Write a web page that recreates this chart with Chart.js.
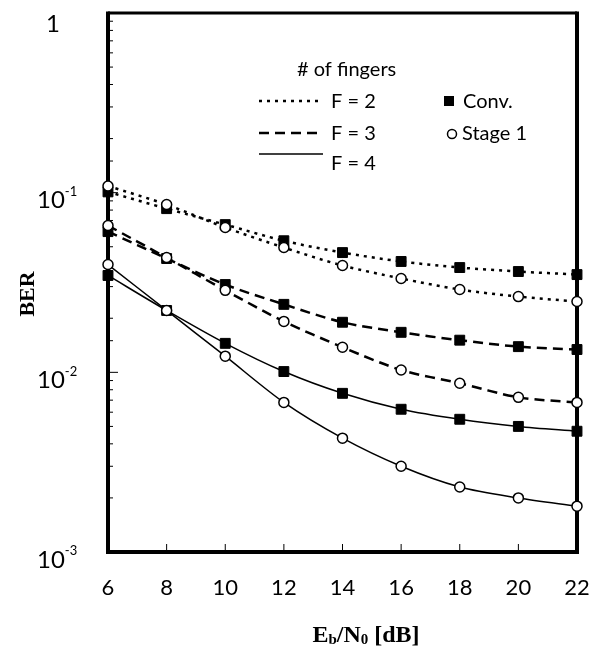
<!DOCTYPE html>
<html>
<head>
<meta charset="utf-8">
<script src="https://cdn.jsdelivr.net/npm/chart.js@4"></script>
<style>
  body { margin: 0; background: #fff; }
  canvas { display: block; }
</style>
</head>
<body>
<canvas id="berChart" width="589" height="652"></canvas>
<script>
// Eb/N0 points (dB)
const ebno = [6, 8, 10, 12, 14, 16, 18, 20, 22];

// BER
const convF2 = [0.101, 0.0815, 0.0664, 0.054, 0.0464, 0.0414, 0.0383, 0.0364, 0.035];
const stageF2 = [0.109, 0.0858, 0.064, 0.0495, 0.0393, 0.0333, 0.0289, 0.0264, 0.0248];
const convF3 = [0.0607, 0.043, 0.0308, 0.0239, 0.019, 0.0167, 0.0151, 0.0139, 0.0134];
const stageF3 = [0.0656, 0.0435, 0.0286, 0.0192, 0.0138, 0.0103, 0.0087, 0.00726, 0.0068];
const convF4 = [0.0346, 0.0221, 0.0145, 0.0101, 0.00764, 0.00623, 0.00548, 0.005, 0.0047];
const stageF4 = [0.0398, 0.0221, 0.0123, 0.0068, 0.0043, 0.003, 0.0023, 0.002, 0.0018];

// y tick labels: decades and their exponents
const yDecades = [1, 0.1, 0.01, 0.001];
const yExponents = ["", "-1", "-2", "-3"];

// legend texts
const legendTitle = "# of fingers";
const fingerLabels = ["F = 2", "F = 3", "F = 4"];
const markerLabels = ["Conv.", "Stage 1"];

const sansFont = "Lato, 'Open Sans', sans-serif";
const serifFont = "'Liberation Serif', 'DejaVu Serif', serif";

const dotted = [3, 5];
const dashed = [10, 6];

function pts(vals) {
  return ebno.map((x, i) => ({ x: x, y: vals[i] }));
}

function squareSet(label, vals, dash, width) {
  return {
    label: label,
    data: pts(vals),
    borderColor: "#000",
    borderWidth: width,
    borderDash: dash,
    pointStyle: "rect",
    pointRadius: 7,
    pointBackgroundColor: "#000",
    pointBorderColor: "#000",
    pointBorderWidth: 1,
    tension: 0.3,
    clip: false,
  };
}

function circleSet(label, vals, dash, width) {
  return {
    label: label,
    data: pts(vals),
    borderColor: "#000",
    borderWidth: width,
    borderDash: dash,
    pointStyle: "circle",
    pointRadius: 5,
    pointBackgroundColor: "#fff",
    pointBorderColor: "#000",
    pointBorderWidth: 1.5,
    tension: 0.3,
    clip: false,
  };
}

// frame + inward ticks
const framePlugin = {
  id: "frame",
  beforeDatasetsDraw(chart) {
    const ctx = chart.ctx;
    const a = chart.chartArea;
    const xs = chart.scales.x;
    const ys = chart.scales.y;
    ctx.save();
    ctx.strokeStyle = "#000";

    // left axis ticks (inward)
    ctx.lineWidth = 1;
    ys.ticks.forEach(t => {
      const y = ys.getPixelForValue(t.value);
      const major = Math.abs(Math.log10(t.value) - Math.round(Math.log10(t.value))) < 1e-6;
      ctx.beginPath();
      ctx.moveTo(a.left, y);
      ctx.lineTo(a.left + (major ? 10 : 5), y);
      ctx.stroke();
    });
    // bottom axis ticks (inward)
    xs.ticks.forEach(t => {
      const x = xs.getPixelForValue(t.value);
      ctx.beginPath();
      ctx.moveTo(x, a.bottom);
      ctx.lineTo(x, a.bottom - 8);
      ctx.stroke();
    });

    // frame
    ctx.lineWidth = 3;
    ctx.beginPath();
    ctx.moveTo(a.left, a.top);
    ctx.lineTo(a.right, a.top);
    ctx.stroke();
    ctx.lineWidth = 4;
    ctx.beginPath();
    ctx.moveTo(a.right, a.top - 1.5);
    ctx.lineTo(a.right, a.bottom);
    ctx.lineTo(a.left, a.bottom);
    ctx.lineTo(a.left, a.top - 1.5);
    ctx.stroke();
    ctx.restore();
  },
  afterDraw(chart) {
    const ctx = chart.ctx;
    const ys = chart.scales.y;
    ctx.save();
    ctx.fillStyle = "#000";
    ctx.textBaseline = "middle";

    // y tick labels with superscripts
    yDecades.forEach((v, i) => {
      const y = ys.getPixelForValue(v) + 8;
      ctx.font = "24px " + sansFont;
      if (yExponents[i] === "") {
        ctx.textAlign = "center";
        ctx.fillText("1", 53, y + 3);
        return;
      }
      ctx.textAlign = "left";
      const w = ctx.measureText("10").width;
      ctx.fillText("10", 37, y);
      ctx.font = "13px " + sansFont;
      ctx.fillText(yExponents[i], 37 + w, y - 9);
    });

    // y title
    ctx.save();
    ctx.translate(28, 294);
    ctx.rotate(-Math.PI / 2);
    ctx.textAlign = "center";
    ctx.font = "bold 22px " + serifFont;
    ctx.fillText("BER", 0, 0);
    ctx.restore();

    // x title Eb/N0 [dB]
    const parts = [["E", 24, 0], ["b", 15, 2], ["/N", 24, 0], ["0", 15, 2], [" [dB]", 24, 0]];
    let total = 0;
    parts.forEach(p => {
      ctx.font = "bold " + p[1] + "px " + serifFont;
      total += ctx.measureText(p[0]).width;
    });
    let x = 366 - total / 2;
    ctx.textAlign = "left";
    ctx.textBaseline = "alphabetic";
    parts.forEach(p => {
      ctx.font = "bold " + p[1] + "px " + serifFont;
      ctx.fillText(p[0], x, 642 + p[2]);
      x += ctx.measureText(p[0]).width;
    });

    // legend
    ctx.textBaseline = "middle";
    ctx.font = "20px " + sansFont;
    ctx.fillText(legendTitle, 297, 70);
    const rows = [101, 133, 163];
    const dashes = [dotted, dashed, []];
    const widths = [2.5, 2.5, 1.5];
    rows.forEach((y, i) => {
      ctx.setLineDash(dashes[i]);
      ctx.lineWidth = widths[i];
      ctx.beginPath();
      ctx.moveTo(259, i === 2 ? y - 9 : y);
      ctx.lineTo(323, i === 2 ? y - 9 : y);
      ctx.stroke();
      ctx.fillText(fingerLabels[i], 331, y + 1);
    });
    ctx.setLineDash([]);
    ctx.fillRect(444, 96, 10, 10);
    ctx.fillText(markerLabels[0], 463, 102);
    ctx.lineWidth = 1.5;
    ctx.beginPath();
    ctx.arc(452, 134, 4.5, 0, Math.PI * 2);
    ctx.stroke();
    ctx.fillText(markerLabels[1], 462, 134);
    ctx.restore();
  },
};

new Chart(document.getElementById("berChart"), {
  type: "line",
  data: {
    datasets: [
      circleSet("Stage 1, F = 2", stageF2, dotted, 2.5),
      circleSet("Stage 1, F = 3", stageF3, dashed, 2.5),
      circleSet("Stage 1, F = 4", stageF4, [], 1.5),
      squareSet("Conv., F = 2", convF2, dotted, 2.5),
      squareSet("Conv., F = 3", convF3, dashed, 2.5),
      squareSet("Conv., F = 4", convF4, [], 1.5),
    ],
  },
  options: {
    responsive: false,
    animation: false,
    devicePixelRatio: 1,
    layout: { padding: { top: 13, right: 12, left: 0, bottom: 0 } },
    plugins: {
      legend: { display: false },
      tooltip: { enabled: false },
    },
    scales: {
      x: {
        type: "linear",
        min: 6,
        max: 22,
        grid: { display: false },
        border: { display: false },
        ticks: {
          stepSize: 2,
          autoSkip: false,
          maxRotation: 0,
          padding: 15,
          color: "#000",
          font: { family: sansFont, size: 22 },
        },
        afterFit: s => {
          s.height = 100;
          s.paddingLeft = 0;
          s.paddingRight = 0;
        },
      },
      y: {
        type: "logarithmic",
        min: 0.001,
        max: 1,
        grid: { display: false },
        border: { display: false },
        ticks: { display: false },
        afterFit: s => { s.width = 108; },
      },
    },
  },
  plugins: [framePlugin],
});
</script>
</body>
</html>
